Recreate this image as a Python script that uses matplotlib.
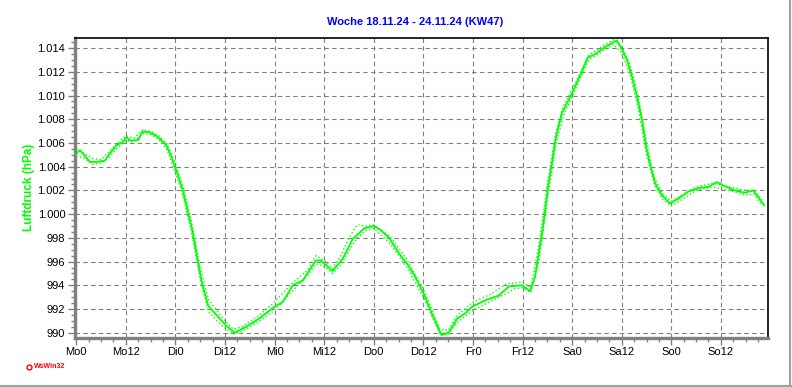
import matplotlib
matplotlib.use("Agg")
import matplotlib.pyplot as plt
from matplotlib.lines import Line2D
from matplotlib.ticker import FuncFormatter, MultipleLocator

# Stunden seit Montag 0 Uhr und Luftdruck (hPa), Hauptlinie
stunden = [0, 0.9, 3.3, 4.9, 6.9, 8.1, 9.75, 11.3, 12.2, 13, 15, 16, 17.8, 19.8,
           21.8, 23, 24.2, 25.8, 27, 28, 30.3, 31.9, 33.9, 36.3, 38.3, 41.1, 44.3,
           48, 50, 52.4, 54.8, 58, 59.2, 62, 64.5, 66.9, 69.7, 72.1, 73.7, 75.7,
           78.1, 80.1, 82.2, 84.2, 86.2, 88.4, 90.2, 92.2, 94.2, 95.8, 99.1, 102.3,
           104.7, 107.9, 109.8, 111, 111.8, 112.9, 114.3, 115.1, 116.1, 117.5, 120,
           122, 123.8, 125.6, 128, 130, 130.8, 131.9, 133.3, 134.5, 135.7, 136.9,
           137.9, 138.9, 140.1, 141.7, 143.7, 145.7, 148.1, 150.6, 153, 155, 157,
           159.4, 161.8, 163.8, 165, 166.5]
druck = [1005.1, 1005.4, 1004.4, 1004.4, 1004.5, 1005.1, 1005.8, 1006.1, 1006.5,
         1006.2, 1006.25, 1006.95, 1006.9, 1006.5, 1005.8, 1004.85, 1003.7, 1002.0,
         1000.2, 998.8, 994.4, 992.3, 991.5, 990.6, 990.0, 990.5, 991.2, 992.2,
         992.6, 994.0, 994.4, 996.1, 996.1, 995.2, 996.25, 997.9, 998.8, 999.0,
         998.65, 998.0, 996.7, 995.8, 994.6, 993.2, 991.5, 989.8, 990.05, 991.2,
         991.65, 992.2, 992.75, 993.15, 993.9, 994.0, 993.5, 994.7, 996.4, 998.8,
         1002.6, 1004.3, 1006.5, 1008.5, 1010.2, 1011.75, 1013.2, 1013.5, 1014.1,
         1014.5, 1014.65, 1014.0, 1013.0, 1011.6, 1009.9, 1007.95, 1005.7, 1004.1,
         1002.6, 1001.6, 1000.9, 1001.3, 1001.9, 1002.2, 1002.3, 1002.7, 1002.35,
         1002.0, 1001.8, 1002.0, 1001.45, 1000.75]

# Max / Min (gepunktet)
stunden_mm = [0, 2, 4, 6, 8, 10, 12, 14, 16, 18, 20, 22, 24, 26, 28, 30, 32, 34,
              36, 38, 40, 44, 48, 52, 56, 58, 60, 62, 64, 66, 68, 70, 72, 76, 80,
              84, 88, 90, 92, 96, 100, 104, 106, 108, 110, 112, 114, 116, 118, 120,
              124, 128, 130, 132, 134, 136, 138, 140, 142, 144, 146, 150, 154, 158,
              162, 164, 166]
druck_max = [1005.5, 1005.1, 1004.7, 1004.6, 1005.3, 1006.0, 1006.6, 1006.4, 1007.1,
             1007.0, 1006.6, 1005.9, 1004.3, 1002.1, 999.2, 995.5, 992.8, 991.9,
             991.0, 990.3, 990.5, 991.4, 992.6, 994.1, 995.3, 996.5, 996.1, 995.4,
             996.5, 998.0, 999.1, 999.0, 999.1, 998.1, 996.2, 993.7, 990.3, 990.2,
             991.4, 992.6, 993.2, 994.1, 994.2, 994.3, 993.8, 997.5, 1002.5, 1006.8,
             1009.2, 1010.5, 1013.4, 1014.3, 1014.7, 1014.2, 1012.6, 1009.9, 1006.0,
             1003.0, 1001.7, 1001.1, 1001.5, 1002.3, 1002.6, 1002.3, 1002.0, 1002.0,
             1001.2]
druck_min = [1004.9, 1004.7, 1004.2, 1004.3, 1004.8, 1005.6, 1006.2, 1006.1, 1006.8,
             1006.7, 1006.3, 1005.4, 1003.5, 1001.3, 998.3, 994.5, 991.8, 991.0,
             990.4, 989.9, 990.1, 990.9, 991.9, 993.4, 994.8, 995.8, 995.6, 995.0,
             995.7, 996.9, 998.0, 998.6, 998.8, 997.5, 995.5, 993.0, 989.9, 989.8,
             990.8, 991.9, 992.6, 993.3, 993.7, 993.8, 993.4, 996.1, 1001.1, 1005.8,
             1008.4, 1009.9, 1013.0, 1013.9, 1014.3, 1013.6, 1011.8, 1008.9, 1005.0,
             1002.4, 1001.2, 1000.7, 1001.1, 1002.0, 1002.3, 1002.0, 1001.6, 1001.7,
             1000.7]

x_ticks = [0, 12, 24, 36, 48, 60, 72, 84, 96, 108, 120, 132, 144, 156]
x_labels = ["Mo0", "Mo12", "Di0", "Di12", "Mi0", "Mi12", "Do0", "Do12",
            "Fr0", "Fr12", "Sa0", "Sa12", "So0", "So12"]
y_ticks = [990, 992, 994, 996, 998, 1000, 1002, 1004, 1006, 1008, 1010, 1012, 1014]

titel = "Woche 18.11.24 - 24.11.24 (KW47)"

plt.rcParams['font.family'] = ['Liberation Sans', 'DejaVu Sans']

fig = plt.figure(figsize=(7.92, 3.87), dpi=100)
ax = fig.add_axes([0.0947, 0.1279, 0.875, 0.7739])

gruen = '#00ff00'
ax.plot(stunden_mm, druck_max, color=gruen, lw=1.0, ls=':', zorder=3)
ax.plot(stunden_mm, druck_min, color=gruen, lw=1.0, ls=':', zorder=3)
ax.plot(stunden, druck, color=gruen, lw=1.3, zorder=4)

ax.set_xlim(-0.3, 167.4)
ax.set_ylim(989.6, 1014.85)

ax.set_xticks(x_ticks)
ax.set_xticklabels(x_labels)
ax.xaxis.set_minor_locator(MultipleLocator(3))
ax.set_yticks(y_ticks)
ax.yaxis.set_minor_locator(MultipleLocator(0.5))


def fmt(v, pos):
    v = int(round(v))
    if v >= 1000:
        return f"{v // 1000}.{v % 1000:03d}"
    return str(v)


ax.yaxis.set_major_formatter(FuncFormatter(fmt))

ax.tick_params(which='major', direction='out', length=5, width=1, color='#808080',
               labelsize=8, pad=2)
ax.tick_params(which='minor', direction='out', length=3, width=1, color='#808080')

ax.grid(True, which='major', color='#808080', lw=0.8, ls=(0, (4, 3)))

for s in ['left', 'bottom']:
    ax.spines[s].set_color('#808080')
    ax.spines[s].set_linewidth(2.4)
for s in ['top', 'right']:
    ax.spines[s].set_color('black')
    ax.spines[s].set_linewidth(1.2)

fig.text(0.524, 0.943, titel, color='#0000ff', fontsize=8, fontweight='bold',
         ha='center', va='center')
fig.text(0.037, 0.515, "Luftdruck (hPa)", color=gruen, fontsize=8.5, fontweight='bold',
         rotation=90, ha='center', va='center')

fig.lines.append(Line2D([0.037], [0.052], marker='o', ms=3.5, mfc='none', mec='red',
                        mew=1, transform=fig.transFigure))
fig.text(0.043, 0.052, "WsWin32", color='red', fontsize=5, fontweight='bold',
         ha='left', va='center')

# Rahmen rechts und unten
fig.lines.append(Line2D([0.998, 0.998], [0.0, 1.0], color='#a0a0a0', lw=1.5,
                        transform=fig.transFigure))
fig.lines.append(Line2D([0.0, 1.0], [0.003, 0.003], color='#a0a0a0', lw=1.5,
                        transform=fig.transFigure))

fig.savefig("out.png", dpi=100)
